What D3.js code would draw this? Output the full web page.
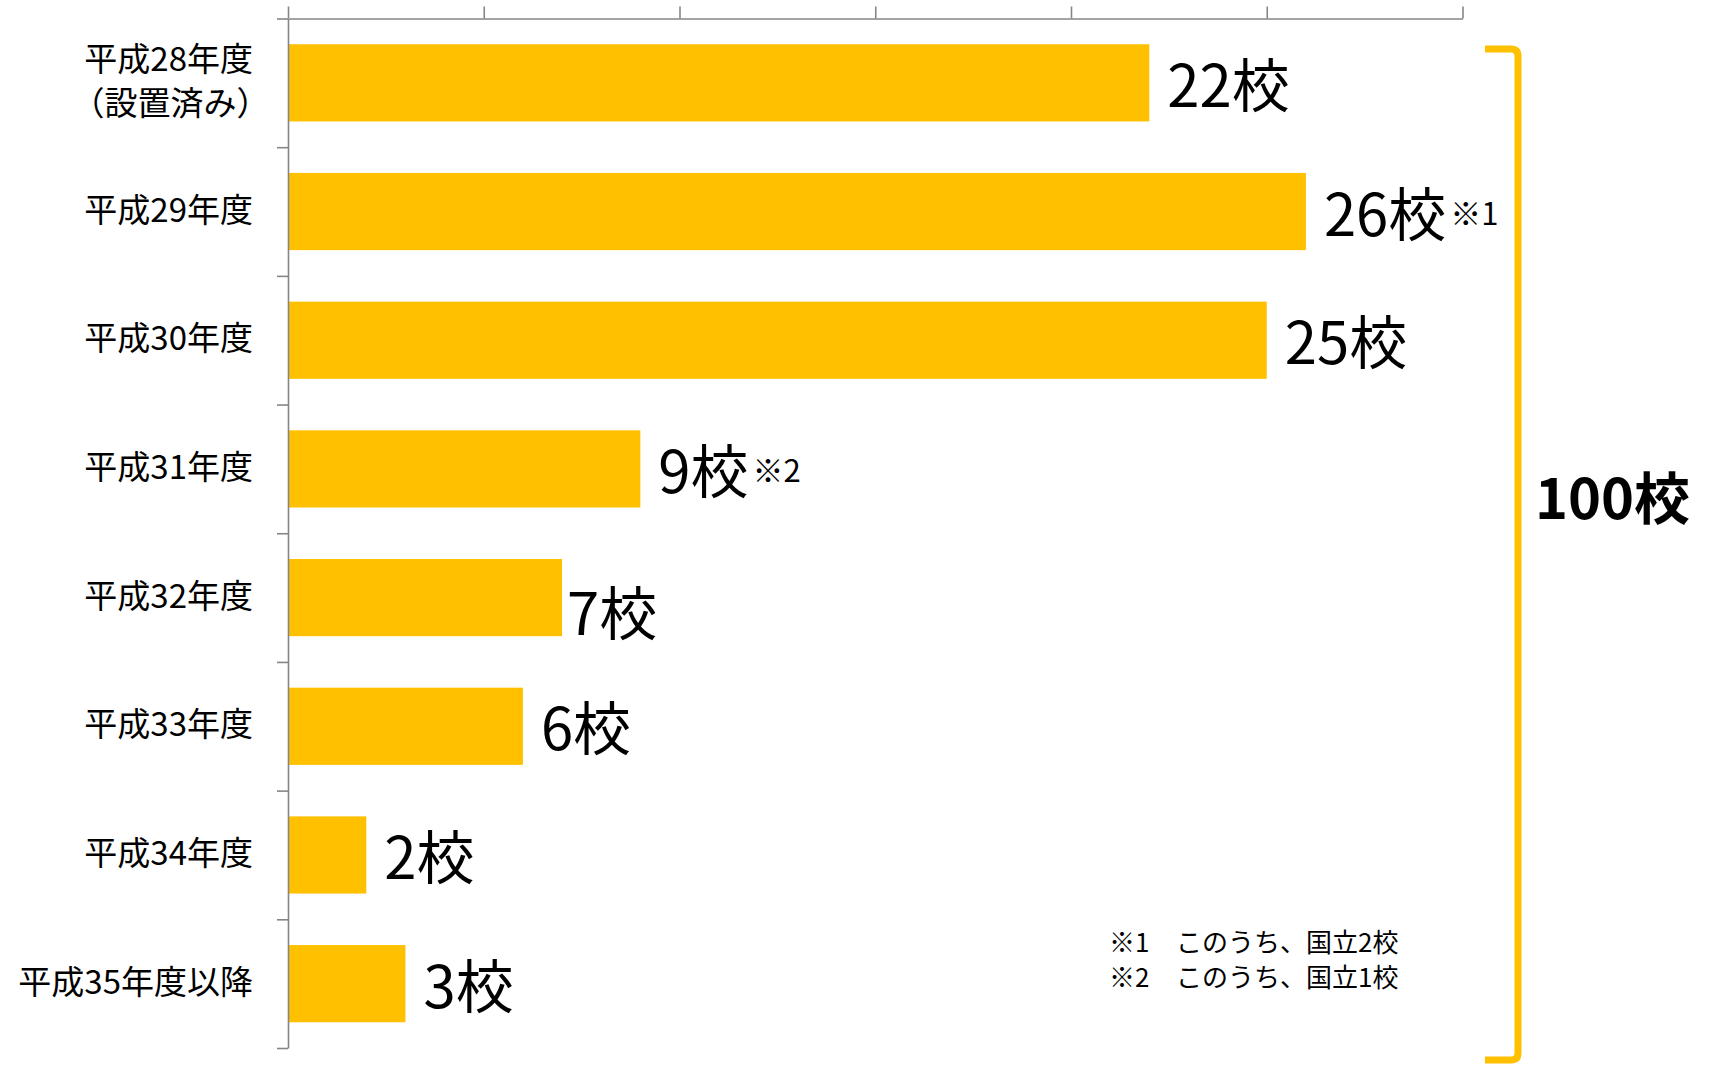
<!DOCTYPE html>
<html>
<head>
<meta charset="utf-8">
<script src="https://cdn.jsdelivr.net/npm/d3@7"></script>
<style>
  html, body { margin: 0; padding: 0; background: #fff; }
  svg { display: block; }
  text { font-family: "Noto Sans CJK JP", "Noto Sans", sans-serif; fill: #000; }
</style>
</head>
<body>
<svg id="chart" width="1710" height="1065"></svg>
<script>
const categories = ["平成28年度\n（設置済み）", "平成29年度", "平成30年度", "平成31年度", "平成32年度", "平成33年度", "平成34年度", "平成35年度以降"];
const values = [22, 26, 25, 9, 7, 6, 2, 3];
const valueSuffix = "校";
const valueNotes = ["", "※1", "", "※2", "", "", "", ""];
const xTicks = [0, 5, 10, 15, 20, 25, 30];
const totalLabel = "100校";
const footnoteMarks = ["※1", "※2"];
const footnoteTexts = ["このうち、国立2校", "このうち、国立1校"];

const svg = d3.select("#chart");
const barColor = "#FFC000";
const axisColor = "#868686";

const x = d3.scaleLinear().domain([0, 30]).range([288, 1462.5]);
const y = d3.scaleBand().domain(categories).range([18.5, 1048]).paddingInner(0.4).paddingOuter(0.2);
const yBound = d3.scaleLinear().domain([0, categories.length]).range([18.5, 1048]);

// bars
svg.append("g").selectAll("rect").data(categories).join("rect")
  .attr("x", x(0))
  .attr("y", d => y(d))
  .attr("width", (d, i) => x(values[i]) - x(0))
  .attr("height", y.bandwidth())
  .attr("fill", barColor);

// top axis
const gx = svg.append("g").attr("transform", `translate(0,${yBound(0)})`)
  .call(d3.axisTop(x).tickValues(xTicks).tickFormat("").tickSize(12).tickSizeOuter(0));
gx.selectAll("path, line").attr("stroke", axisColor).attr("stroke-width", 1.6);

// left axis (band boundaries)
const gy = svg.append("g").attr("transform", `translate(${x(0)},0)`)
  .call(d3.axisLeft(yBound).tickValues(d3.range(categories.length + 1)).tickFormat("").tickSize(11).tickSizeOuter(0));
gy.selectAll("path, line").attr("stroke", axisColor).attr("stroke-width", 1.6);

// category labels
const catFs = 33;
const catG = svg.append("g");
categories.forEach(c => {
  const lines = c.split("\n");
  const cy = y(c) + y.bandwidth() / 2 - 4;
  const lh = 44;
  const t = catG.append("text")
    .attr("text-anchor", "end")
    .attr("font-size", catFs);
  lines.forEach((ln, j) => {
    t.append("tspan")
      .attr("x", ln.startsWith("（") ? 253 + catFs * 0.5 : 253)
      .attr("y", cy + (j - (lines.length - 1) / 2) * lh)
      .attr("dominant-baseline", "central")
      .text(ln);
  });
});

// value labels
const valG = svg.append("g");
categories.forEach((c, i) => {
  let dx = 18, dy = 0;
  if (i === 4) { dx = 5; dy = 13; }
  const cy = y(c) + y.bandwidth() / 2 + dy - 1;
  const lx = x(values[i]) + dx;
  const t = valG.append("text")
    .attr("x", lx)
    .attr("y", cy)
    .attr("dominant-baseline", "central")
    .attr("font-size", 58)
    .text(values[i] + valueSuffix);
  if (valueNotes[i]) {
    const w = t.node().getComputedTextLength();
    valG.append("text")
      .attr("x", lx + w + 4)
      .attr("y", cy + 1)
      .attr("dominant-baseline", "central")
      .attr("font-size", 31)
      .text(valueNotes[i]);
  }
});

// bracket
svg.append("path")
  .attr("d", "M1485,49 H1511 Q1518,49 1518,56 V1053 Q1518,1060 1511,1060 H1485")
  .attr("fill", "none")
  .attr("stroke", barColor)
  .attr("stroke-width", 7);

svg.append("text")
  .attr("x", 1535)
  .attr("y", 494)
  .attr("dominant-baseline", "central")
  .attr("font-size", 56)
  .attr("font-weight", "bold")
  .text(totalLabel);

// footnotes
footnoteMarks.forEach((m, i) => {
  const fy = 940 + i * 35;
  svg.append("text").attr("x", 1109).attr("y", fy).attr("dominant-baseline", "central")
    .attr("font-size", 26).text(m);
  svg.append("text").attr("x", 1176).attr("y", fy).attr("dominant-baseline", "central")
    .attr("font-size", 26).text(footnoteTexts[i]);
});
</script>
</body>
</html>
